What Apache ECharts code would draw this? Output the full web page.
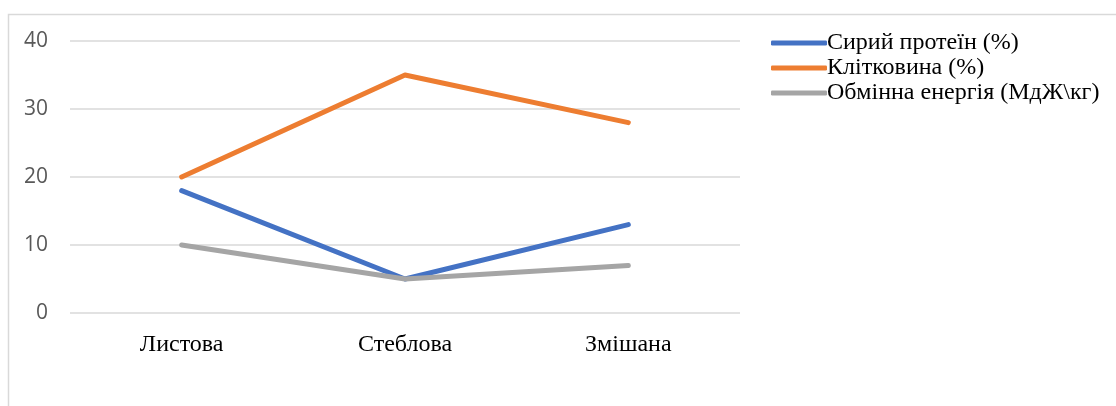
<!DOCTYPE html>
<html>
<head>
<meta charset="utf-8">
<script src="https://cdn.jsdelivr.net/npm/echarts@6/dist/echarts.min.js"></script>
<style>
  html,body{margin:0;padding:0;background:#fff;}
  #chart{width:1116px;height:406px;}
</style>
</head>
<body>
<div id="chart"></div>
<script>
var categories = ["Листова", "Стеблова", "Змішана"];
var seriesNames = ["Сирий протеїн (%)", "Клітковина (%)", "Обмінна енергія (МдЖ\\кг)"];
var protein = [18, 5, 13];
var fibre = [20, 35, 28];
var energy = [10, 5, 7];
var colors = ["#4472C4", "#ED7D31", "#A5A5A5"];

var chart = echarts.init(document.getElementById("chart"));

function makeSeries(name, data, color){
    return {
        name: name,
        type: "line",
        data: data,
        symbol: "none",
        smooth: false,
        lineStyle: {width: 5, color: color, cap: "round", join: "round"},
        itemStyle: {color: color}
    };
}

var option = {
    animation: false,
    graphic: [{
        type: "rect",
        shape: {x: 8.5, y: 14.5, width: 1200, height: 500},
        style: {fill: "none", stroke: "#d9d9d9", lineWidth: 1.5},
        silent: true
    }],
    legend: {
        orient: "vertical",
        left: 766,
        top: 26,
        itemWidth: 56,
        itemHeight: 5,
        itemGap: 1,
        icon: "roundRect",
        textStyle: {fontFamily: "Liberation Serif", fontSize: 24, color: "#000", padding: [0, 0, 0, -5]},
        data: seriesNames
    },
    grid: {left: 70, right: 376, top: 41, bottom: 93, containLabel: false},
    xAxis: {
        type: "category",
        data: categories,
        boundaryGap: true,
        axisLine: {show: false},
        axisTick: {show: false},
        axisLabel: {fontFamily: "Liberation Serif", fontSize: 24, color: "#000", margin: 20}
    },
    yAxis: {
        type: "value",
        min: 0,
        max: 40,
        interval: 10,
        axisLine: {show: false},
        axisTick: {show: false},
        axisLabel: {fontFamily: "Open Sans", fontSize: 21, color: "#595959", margin: 22},
        splitLine: {lineStyle: {color: "#d9d9d9", width: 1.5}}
    },
    series: [
        makeSeries(seriesNames[0], protein, colors[0]),
        makeSeries(seriesNames[1], fibre, colors[1]),
        makeSeries(seriesNames[2], energy, colors[2])
    ]
};

chart.setOption(option);
</script>
</body>
</html>
